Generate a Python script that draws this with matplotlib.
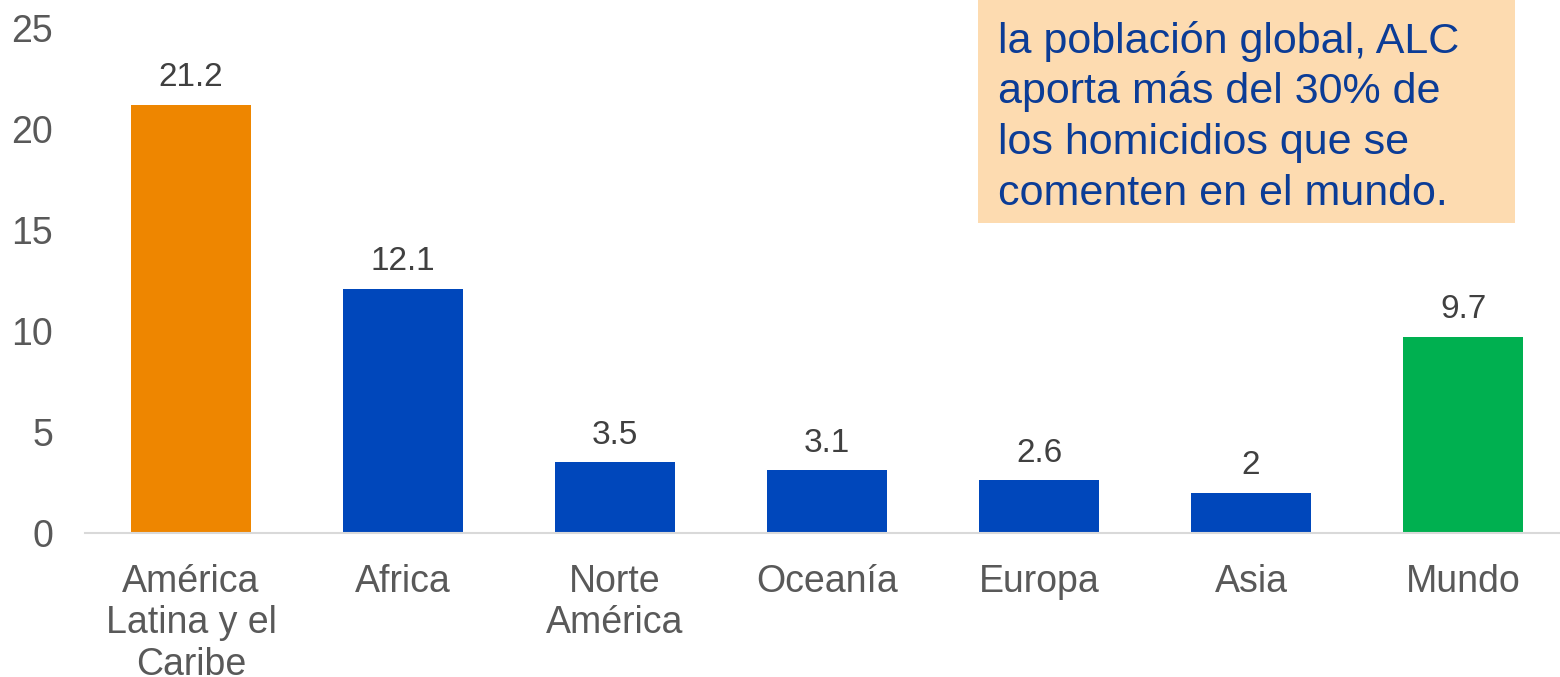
import matplotlib
matplotlib.use("Agg")
import matplotlib.pyplot as plt
from matplotlib.patches import Rectangle

plt.rcParams['font.family'] = ['Liberation Sans', 'DejaVu Sans']

# data
regions = ["América\nLatina y el\nCaribe", "Africa", "Norte\nAmérica", "Oceanía",
           "Europa", "Asia", "Mundo"]
rates = [21.2, 12.1, 3.5, 3.1, 2.6, 2, 9.7]
value_labels = ["21.2", "12.1", "3.5", "3.1", "2.6", "2", "9.7"]
bar_colors = ["#EE8600", "#0047BB", "#0047BB", "#0047BB", "#0047BB", "#0047BB", "#00B050"]
note_lines = ["la población global, ALC", "aporta más del 30% de",
              "los homicidios que se", "comenten en el mundo."]

W, H = 1560, 677
fig = plt.figure(figsize=(W / 100, H / 100), dpi=100)
ax = fig.add_axes([85 / W, 144 / H, 1484 / W, 505 / H])

x = range(len(regions))
ax.bar(x, rates, width=0.57, color=bar_colors)
for xi, v, lab in zip(x, rates, value_labels):
    ax.annotate(lab, (xi, v), xytext=(0, 13.5), textcoords="offset points",
                ha="center", va="baseline", fontsize=24, color="#404040")

ax.set_xlim(-0.5, 6.5)
ax.set_ylim(0, 25)
ax.set_yticks([0, 5, 10, 15, 20, 25])
ax.set_xticks(list(x))
ax.set_xticklabels(regions, fontsize=27, color="#595959", linespacing=1.2)
ax.tick_params(axis="y", labelsize=27, labelcolor="#595959", length=0, pad=23)
ax.tick_params(axis="x", length=0, pad=22)
for s in ["top", "right", "left"]:
    ax.spines[s].set_visible(False)
ax.spines["bottom"].set_color("#D9D9D9")
ax.spines["bottom"].set_linewidth(1.5)

# note box (cut off at the top of the image)
fig.add_artist(Rectangle((978 / W, (H - 223) / H), (1515 - 978) / W, 300 / H,
                         transform=fig.transFigure, facecolor="#FDDBB0",
                         edgecolor="none", zorder=5))
baselines = [53, 103, 154, 205]
for line, yb in zip(note_lines, baselines):
    fig.text(998 / W, (H - yb) / H, line, fontsize=31, color="#0B3C96",
             ha="left", va="baseline", zorder=6)

fig.savefig("out.png", dpi=100)
